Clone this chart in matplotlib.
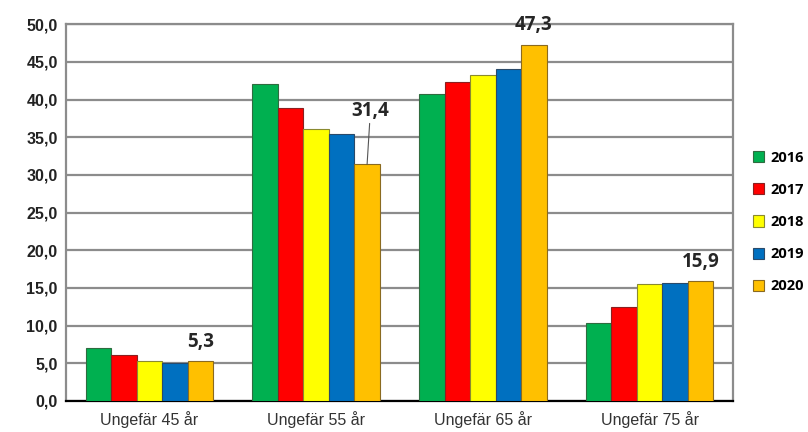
import numpy as np
import matplotlib.pyplot as plt

kategorier = ["Ungefär 45 år", "Ungefär 55 år", "Ungefär 65 år", "Ungefär 75 år"]
ar = ["2016", "2017", "2018", "2019", "2020"]
v2016 = [7.0, 42.0, 40.7, 10.4]
v2017 = [6.1, 38.9, 42.3, 12.5]
v2018 = [5.3, 36.1, 43.3, 15.5]
v2019 = [5.0, 35.4, 44.0, 15.7]
v2020 = [5.3, 31.4, 47.3, 15.9]
serier = [v2016, v2017, v2018, v2019, v2020]

farger = ["#00B050", "#FF0000", "#FFFF00", "#0070C0", "#FFC000"]
kanter = ["#2f6b3f", "#8a2020", "#8a8a30", "#2a4a6a", "#8a6a20"]

fig = plt.figure(figsize=(8.08, 4.32), dpi=100)
ax = fig.add_axes([0.0817, 0.0718, 0.8253, 0.8722])

x = np.arange(len(kategorier))
bredd = 0.153
for i, (vals, f, k, namn) in enumerate(zip(serier, farger, kanter, ar)):
    pos = x + (i - 2) * bredd
    ax.bar(pos, vals, bredd, color=f, edgecolor=k, linewidth=0.8, label=namn, zorder=3)

ax.set_xlim(-0.5, 3.5)
ax.set_ylim(0, 50)
ax.set_yticks(np.arange(0, 51, 5))
ax.set_yticklabels([f"{v:.1f}".replace(".", ",") for v in np.arange(0, 51, 5)],
                   fontsize=11.5, fontweight="bold", family="Liberation Sans", color="#222222")
ax.set_xticks(x)
ax.set_xticklabels(kategorier, fontsize=11.5, family="Liberation Sans", color="#333333")
ax.tick_params(axis="both", length=0, pad=6)
ax.tick_params(axis="x", pad=7)
ax.yaxis.grid(True, color="#8c8c8c", linewidth=1.6, zorder=0)
ax.set_axisbelow(True)
for s in ["left", "right", "top"]:
    ax.spines[s].set_color("#8c8c8c")
    ax.spines[s].set_linewidth(1.6)
ax.spines["bottom"].set_color("black")
ax.spines["bottom"].set_linewidth(1.6)

# etiketter för 2020
etikett_font = dict(fontsize=13.5, fontweight="bold", family="Open Sans", color="#262626",
                    ha="center", va="bottom")
p2020 = x + 2 * bredd
ax.text(p2020[0], v2020[0] + 1.2, "5,3", **etikett_font)
ax.text(p2020[2], v2020[2] + 1.2, "47,3", **etikett_font)
ax.text(p2020[3], v2020[3] + 1.2, "15,9", **etikett_font)
ax.annotate("31,4", xy=(p2020[1], v2020[1]), xytext=(p2020[1] + 0.02, 37.2),
            arrowprops=dict(arrowstyle="-", color="#555555", linewidth=0.8,
                            shrinkA=0, shrinkB=0), **etikett_font)

leg = ax.legend(loc="center left", bbox_to_anchor=(1.01, 0.475), frameon=False,
                handlelength=0.8, handleheight=0.8, handletextpad=0.4, labelspacing=1.25,
                prop={"family": "Open Sans", "weight": "bold", "size": 10.5})

plt.savefig("out.png", dpi=100)
